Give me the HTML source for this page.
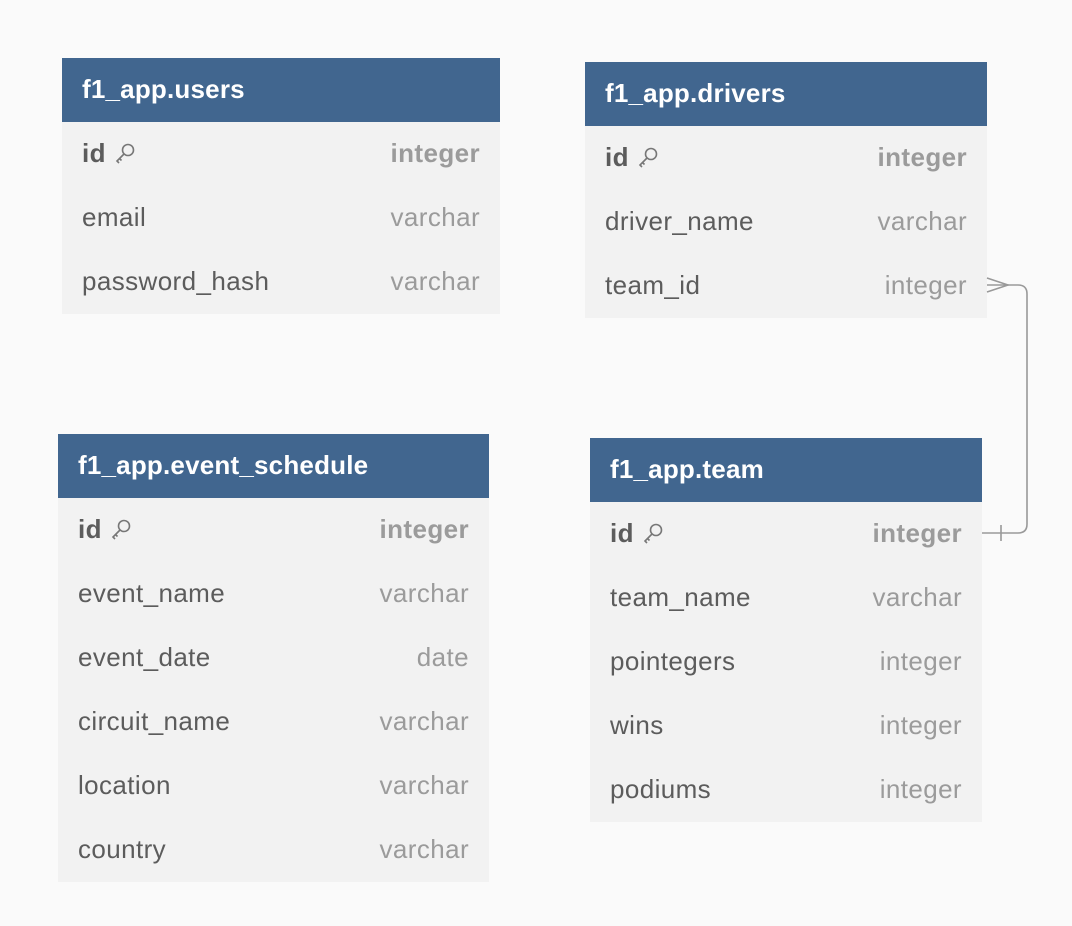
<!DOCTYPE html>
<html><head><style>
body{margin:0;width:1072px;height:926px;background:#fafafa;font-family:"Liberation Sans",sans-serif;position:relative;overflow:hidden}
.t{position:absolute;background:#f2f2f2}
.h{height:64px;background:#41668f;color:#fff;font-weight:bold;font-size:26px;line-height:62px;padding-left:20px;letter-spacing:0.2px}
.r{height:64px;line-height:62px;font-size:26px;color:#5c5c5c;padding:0 20px;display:flex;justify-content:space-between;letter-spacing:0.4px}
.r span:last-child{color:#9b9b9b}
.b span{font-weight:bold}
.k{display:inline-block;width:22px;height:22px;vertical-align:-2px;margin-left:8px}
</style></head><body>
<svg width="0" height="0" style="position:absolute"><defs><symbol id="key" viewBox="0 0 22 22"><circle cx="14" cy="8" r="5.5" fill="none" stroke="#777" stroke-width="1.6"/><path d="M10 12 L3 19 L5 21 M5.5 16.5 L7.5 18.5" fill="none" stroke="#777" stroke-width="1.6"/></symbol></defs></svg>

<div class="t" style="left:62px;top:58px;width:438px">
<div class="h">f1_app.users</div>
<div class="r b"><span>id<svg class="k"><use href="#key"/></svg></span><span>integer</span></div>
<div class="r"><span>email</span><span>varchar</span></div>
<div class="r"><span>password_hash</span><span>varchar</span></div>
</div>

<div class="t" style="left:585px;top:62px;width:402px">
<div class="h">f1_app.drivers</div>
<div class="r b"><span>id<svg class="k"><use href="#key"/></svg></span><span>integer</span></div>
<div class="r"><span>driver_name</span><span>varchar</span></div>
<div class="r"><span>team_id</span><span>integer</span></div>
</div>

<div class="t" style="left:58px;top:434px;width:431px">
<div class="h">f1_app.event_schedule</div>
<div class="r b"><span>id<svg class="k"><use href="#key"/></svg></span><span>integer</span></div>
<div class="r"><span>event_name</span><span>varchar</span></div>
<div class="r"><span>event_date</span><span>date</span></div>
<div class="r"><span>circuit_name</span><span>varchar</span></div>
<div class="r"><span>location</span><span>varchar</span></div>
<div class="r"><span>country</span><span>varchar</span></div>
</div>

<div class="t" style="left:590px;top:438px;width:392px">
<div class="h">f1_app.team</div>
<div class="r b"><span>id<svg class="k"><use href="#key"/></svg></span><span>integer</span></div>
<div class="r"><span>team_name</span><span>varchar</span></div>
<div class="r"><span>pointegers</span><span>integer</span></div>
<div class="r"><span>wins</span><span>integer</span></div>
<div class="r"><span>podiums</span><span>integer</span></div>
</div>

<svg width="1072" height="926" style="position:absolute;left:0;top:0">
<g fill="none" stroke="#999" stroke-width="1.6">
<path d="M987 285 H1018 Q1027 285 1027 294 V524 Q1027 533 1018 533 H982"/>
<path d="M987 278 L1008 285 L987 292"/>
<path d="M1001 525 V541"/>
</g>
</svg>
</body></html>
